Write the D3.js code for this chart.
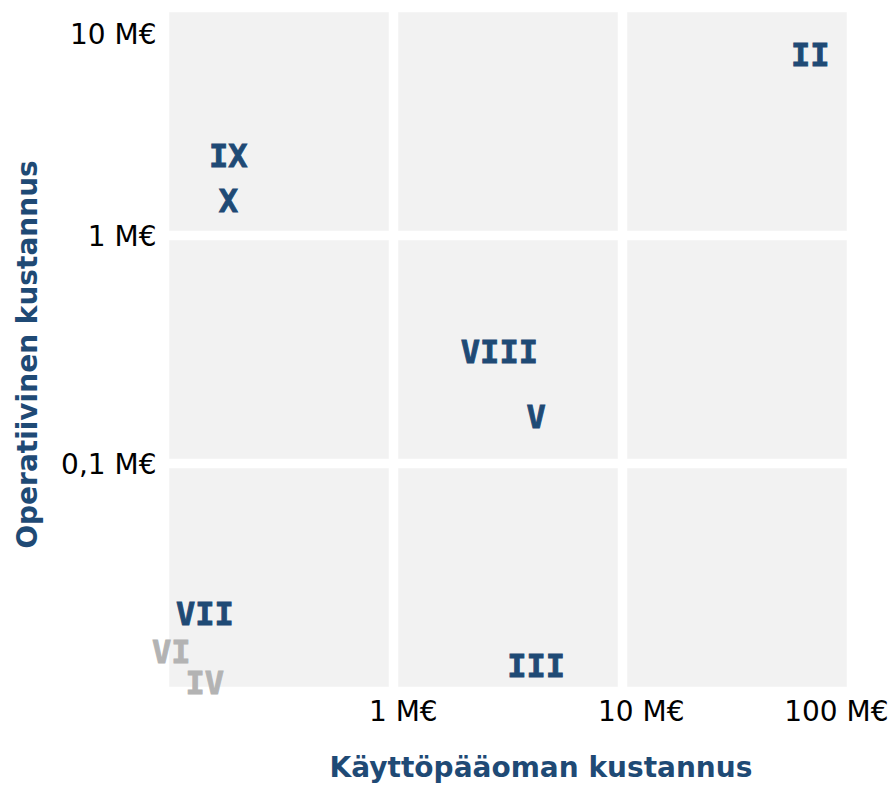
<!DOCTYPE html>
<html>
<head>
<meta charset="utf-8">
<script src="https://cdn.jsdelivr.net/npm/d3@7"></script>
<style>
  html, body { margin: 0; padding: 0; background: #ffffff; }
  svg { display: block; }
</style>
</head>
<body>
<svg id="chart" width="892" height="785"></svg>
<script>
// Projects: capital cost (x) vs operating cost (y), both in M€
const labels      = ["II", "IX", "X", "VIII", "V", "VII", "VI", "IV", "III"];
const capitalCost = [66, 0.19, 0.19, 2.9, 4.2, 0.15, 0.107, 0.15, 4.2];
const operCost    = [6.2, 2.25, 1.43, 0.31, 0.16, 0.022, 0.015, 0.011, 0.013];
const highlighted = [true, true, true, true, true, true, false, false, true];

const xTickValues = [1, 10, 100];
const xTickLabels = ["1 M€", "10 M€", "100 M€"];
const yTickValues = [0.1, 1, 10];
const yTickLabels = ["0,1 M€", "1 M€", "10 M€"];
const xGridValues = [0.1, 1, 10, 100];
const yGridValues = [0.01, 0.1, 1, 10];

const xTitle = "Käyttöpääoman kustannus";
const yTitle = "Operatiivinen kustannus";

const BLUE = "#1f4a75";
const GREY = "#b3b3b3";
const PANEL = "#f2f2f2";
const FONT = "Verdana, 'DejaVu Sans', sans-serif";

const svg = d3.select("#chart");
const W = 892, H = 785;

const x = d3.scaleLog().domain([0.1, 100]).range([164.5, 851.5]);
const y = d3.scaleLog().domain([0.01, 10]).range([691.5, 7.5]);

// Panel background
svg.append("rect")
  .attr("x", x(0.1)).attr("y", y(10))
  .attr("width", x(100) - x(0.1))
  .attr("height", y(0.01) - y(10))
  .attr("fill", PANEL);

// White decade grid
const grid = svg.append("g");
grid.selectAll("line.gx").data(xGridValues).join("line")
  .attr("x1", d => x(d)).attr("x2", d => x(d))
  .attr("y1", y(10) - 5).attr("y2", y(0.01) + 5)
  .attr("stroke", "#ffffff").attr("stroke-width", 9.5);
grid.selectAll("line.gy").data(yGridValues).join("line")
  .attr("y1", d => y(d)).attr("y2", d => y(d))
  .attr("x1", x(0.1) - 5).attr("x2", x(100) + 5)
  .attr("stroke", "#ffffff").attr("stroke-width", 9.5);

// X axis
const xAxis = d3.axisBottom(x)
  .tickValues(xTickValues)
  .tickFormat((d, i) => xTickLabels[i])
  .tickSize(0).tickPadding(0);
const gx = svg.append("g")
  .attr("transform", `translate(0, ${y(0.01)})`)
  .call(xAxis);
gx.select(".domain").remove();
gx.selectAll("text")
  .attr("font-family", FONT).attr("font-size", 28)
  .attr("fill", "#000").attr("text-anchor", "start")
  .attr("dy", null).attr("y", 29)
  .attr("x", -25)
  .each(function(d) {
    const len = this.getComputedTextLength();
    const right = x(d) - 25 + len;
    if (right > W - 4) d3.select(this).attr("x", -25 - (right - (W - 4)));
  });

// Y axis
const yAxis = d3.axisLeft(y)
  .tickValues(yTickValues)
  .tickFormat((d, i) => yTickLabels[i])
  .tickSize(0).tickPadding(8);
const gy = svg.append("g")
  .attr("transform", `translate(${x(0.1)}, 0)`)
  .call(yAxis);
gy.select(".domain").remove();
gy.selectAll("text")
  .attr("font-family", FONT).attr("font-size", 28)
  .attr("fill", "#000")
  .attr("dy", "0.36em")
  .attr("y", d => {
    const top = y(10) + 26;
    return y(d) < top ? top - y(d) : 0;
  });

// Point labels
svg.append("g").selectAll("text")
  .data(labels.map((t, i) => ({ t, cx: capitalCost[i], oc: operCost[i], hi: highlighted[i] })))
  .join("text")
  .attr("x", d => x(d.cx))
  .attr("y", d => y(d.oc))
  .attr("text-anchor", "middle")
  .attr("dy", "0.36em")
  .attr("font-family", "'DejaVu Sans Mono', monospace")
  .attr("font-weight", "bold")
  .attr("font-size", 32)
  .attr("fill", d => d.hi ? BLUE : GREY)
  .attr("stroke", d => d.hi ? BLUE : GREY)
  .attr("stroke-width", 0.9)
  .text(d => d.t);

// Axis titles
svg.append("text")
  .attr("x", 541).attr("y", 777)
  .attr("text-anchor", "middle")
  .attr("font-family", FONT).attr("font-weight", "bold").attr("font-size", 28)
  .attr("fill", BLUE)
  .text(xTitle);

svg.append("text")
  .attr("transform", `translate(27, ${(y(10) + y(0.01)) / 2 + 5}) rotate(-90)`)
  .attr("text-anchor", "middle")
  .attr("dy", "0.36em")
  .attr("font-family", FONT).attr("font-weight", "bold").attr("font-size", 28)
  .attr("fill", BLUE)
  .text(yTitle);
</script>
</body>
</html>
